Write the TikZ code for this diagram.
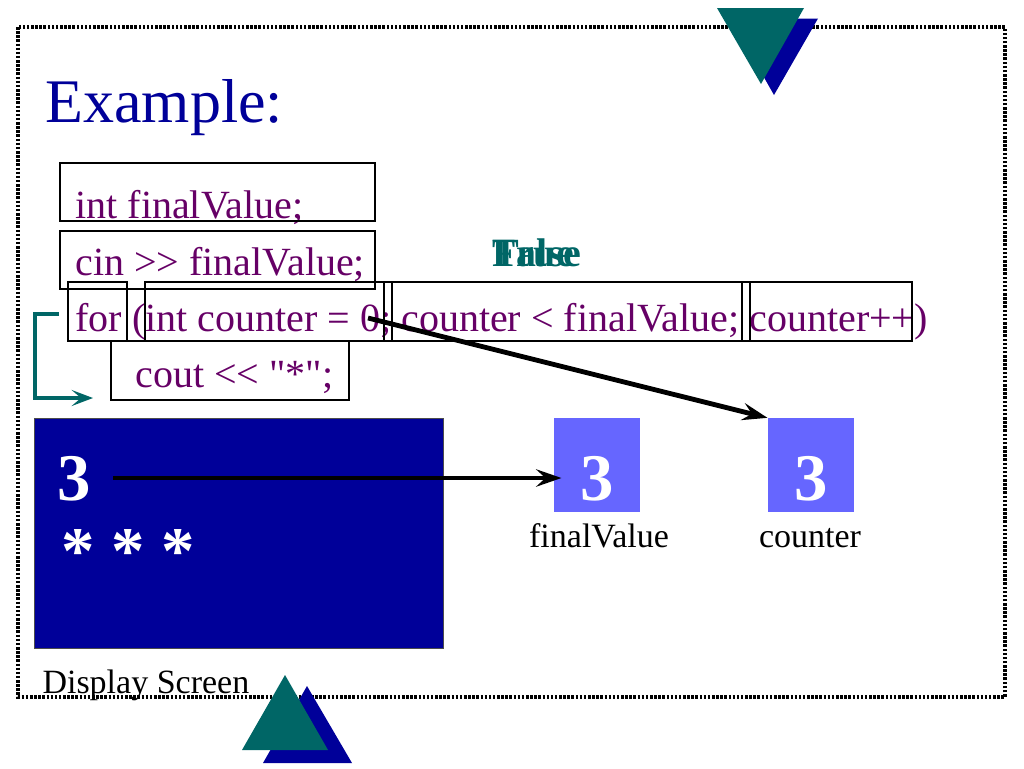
\documentclass[tikz,border=0pt]{standalone}
\usepackage{fontspec}
\setmainfont{Liberation Serif}[Ligatures=TeXOff]
\usetikzlibrary{arrows.meta}

\definecolor{slideblue}{RGB}{0,0,153}
\definecolor{codepurple}{RGB}{102,0,102}
\definecolor{darkteal}{RGB}{0,102,102}
\definecolor{cellblue}{RGB}{102,102,255}

\tikzset{every picture/.style={line width=0.75pt}}
\tikzset{
  code/.style={anchor=base west, inner sep=0pt, text=codepurple, font=\fontsize{30pt}{34pt}\selectfont},
  codebox/.style={draw=black, line width=1.1pt},
  tf/.style={anchor=base west, inner sep=0pt, text=darkteal, font=\fontsize{30pt}{34pt}\selectfont\bfseries},
  digit/.style={inner sep=0pt, text=white, font=\fontsize{50pt}{56pt}\selectfont\bfseries},
  tag/.style={inner sep=0pt, text=black, font=\fontsize{25.5pt}{29pt}\selectfont},
  membox/.style={fill=cellblue, minimum width=64.5pt, minimum height=70pt, inner sep=0pt},
  bigarrow/.style={line width=3.6pt, -{Stealth[length=19pt, width=13pt, inset=7pt]}},
  loopline/.style={draw=darkteal, line width=3.4pt, -{Stealth[length=16pt, width=12pt, inset=7pt]}},
  dotframe/.style={line width=2.3pt, dash pattern={on 1.9pt off 1.2pt}}
}

\begin{document}
\begin{tikzpicture}[x=0.75pt,y=0.75pt,yscale=-1,xscale=1]
\useasboundingbox (0,0) rectangle (1024,768);

%Shape: dotted frame
\draw [dotframe] (18,27) rectangle (1005,697);

%Shape: triangles top
\fill [slideblue] (730.5,18.5) -- (818,18.5) -- (774,95) -- cycle;
\fill [darkteal] (717,8) -- (804,8) -- (761,84) -- cycle;
%Shape: triangles bottom
\fill [slideblue] (307,686) -- (352,763) -- (263,763) -- cycle;
\fill [darkteal] (285,675) -- (328,750) -- (242,750) -- cycle;

% Title
\node [anchor=base west, inner sep=0pt, text=slideblue, font=\fontsize{46.5pt}{52pt}\selectfont] (title) at (45,122) {Example:};

% Code lines
\node [code] (codeDecl) at (75,218) {int finalValue;};
\node [code] (codeRead) at (75,275) {cin >> finalValue;};
\node [code] (codeFor) at (75,331) {for (int counter = 0; counter < finalValue; counter++)};
\node [code] (codeOut) at (135,387) {cout << "*";};

%Shape: code boxes
\draw [codebox] (60,163) rectangle (375,221);
\draw [codebox] (60,231) rectangle (375,289);
\draw [codebox] (68,282) rectangle (127,341);
\draw [codebox] (145,282) rectangle (392,341);
\draw [codebox] (384,282) rectangle (750,341);
\draw [codebox] (742,282) rectangle (912,341);
\draw [codebox] (111,341) rectangle (349,400);

% Condition value
\node [tf] (condFalse) at (492,266) {False};
\node [tf] (condTrue) at (492,266) {True};

%Straight Lines: loop back
\coordinate (loopTop) at (59,314);
\coordinate (loopEnd) at (93,398);
\draw [loopline] (loopTop) -- ++(-24,0) |- (loopEnd);

%Shape: display screen
\draw [fill=slideblue, draw=black!70] (34,418) rectangle (443,648);
\node [digit, anchor=base west] (scrDigit) at (57,500) {3};
\node [digit, anchor=base west] (scrStars) at (61,573) {* * *};
\node [tag, anchor=base west] (tagScreen) at (42,693) {Display Screen};

%Shape: memory cells
\node [membox] (boxFinal) at (597,465) {};
\node [membox] (boxCounter) at (811,465) {};
\node [digit, anchor=base] (valFinal) at (597,500) {3};
\node [digit, anchor=base] (valCounter) at (811,500) {3};
\node [tag, anchor=base] (tagFinal) at (599,547) {finalValue};
\node [tag, anchor=base] (tagCounter) at (810,547) {counter};

%Straight Lines: arrows
\coordinate (scrStart) at (113,478);
\coordinate (initZero) at (368,318);
\draw [bigarrow] (scrStart) -- ([xshift=6pt,yshift=9.75pt]boxFinal.west);
\draw [bigarrow] (initZero) -- (boxCounter.north west);

\end{tikzpicture}
\end{document}
